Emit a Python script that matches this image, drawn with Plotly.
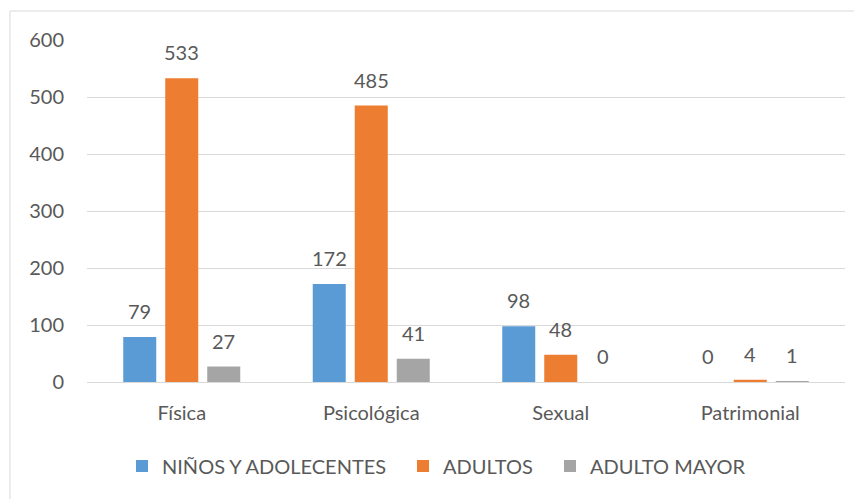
import plotly.graph_objects as go

categories = ["Física", "Psicológica", "Sexual", "Patrimonial"]
series_names = ["NIÑOS Y ADOLECENTES", "ADULTOS", "ADULTO MAYOR"]
ninos = [79, 172, 98, 0]
adultos = [533, 485, 48, 4]
adulto_mayor = [27, 41, 0, 1]
y_ticks = [0, 100, 200, 300, 400, 500, 600]

colors = ["#5B9BD5", "#ED7D31", "#A5A5A5"]
legend_widths = [236, 102, 161]
FONT = "Lato, 'Open Sans', sans-serif"
TXT = "#595959"

# page body has an 8px margin, so the figure is drawn 8px in from the window edge
OFF = 8
W, H = 862 - OFF, 499 - OFF
ML, MR, MT, MB = 87 - OFF, 17, 40 - OFF, 117
PW = W - ML - MR
PH = H - MT - MB

fig = go.Figure()
all_series = [ninos, adultos, adulto_mayor]
for name, vals, col, lw in zip(series_names, all_series, colors, legend_widths):
    fig.add_trace(go.Bar(x=categories, y=vals, name=name, marker_color=col,
                         marker_line_width=0, legendwidth=lw))

# data labels above bars
cat_w = PW / len(categories)
slot = cat_w * (1 - 0.335) / 3
for i, vals in enumerate(all_series):
    for c, v in zip(categories, vals):
        fig.add_annotation(x=c, y=v, xref="x", yref="y", text=str(v),
                           showarrow=False, yanchor="bottom", xanchor="center",
                           xshift=(i - 1) * slot, yshift=12,
                           font=dict(family=FONT, size=20, color=TXT))

# outer chart border (only left/top visible)
fig.add_shape(type="rect", xref="paper", yref="paper",
              x0=(10 - OFF - ML) / PW, x1=1.1, y0=-0.5,
              y1=(H - MB - (11 - OFF)) / PH,
              line=dict(color="#D9D9D9", width=1), fillcolor="rgba(0,0,0,0)",
              layer="below")

fig.update_layout(
    width=W, height=H,
    margin=dict(l=ML, r=MR, t=MT, b=MB),
    paper_bgcolor="white", plot_bgcolor="white",
    barmode="group", bargap=0.335, bargroupgap=0.214,
    font=dict(family=FONT, size=20, color=TXT),
    showlegend=True,
    legend=dict(orientation="h", x=(122 - OFF - ML) / PW, xanchor="left",
                y=1 - (466 - OFF) / H, yref="container", yanchor="middle",
                font=dict(family=FONT, size=20, color=TXT),
                itemwidth=30, traceorder="normal"),
    xaxis=dict(showgrid=False, showline=False, zeroline=False, ticks="",
               ticklabelstandoff=17, tickfont=dict(size=20, color=TXT)),
    yaxis=dict(range=[0, 600], tickvals=y_ticks, showgrid=True,
               gridcolor="#D9D9D9", gridwidth=1, zeroline=True,
               zerolinecolor="#D9D9D9", zerolinewidth=1, showline=False,
               ticks="", ticklabelstandoff=22, tickfont=dict(size=20, color=TXT)),
)

fig.write_html("out.html")
